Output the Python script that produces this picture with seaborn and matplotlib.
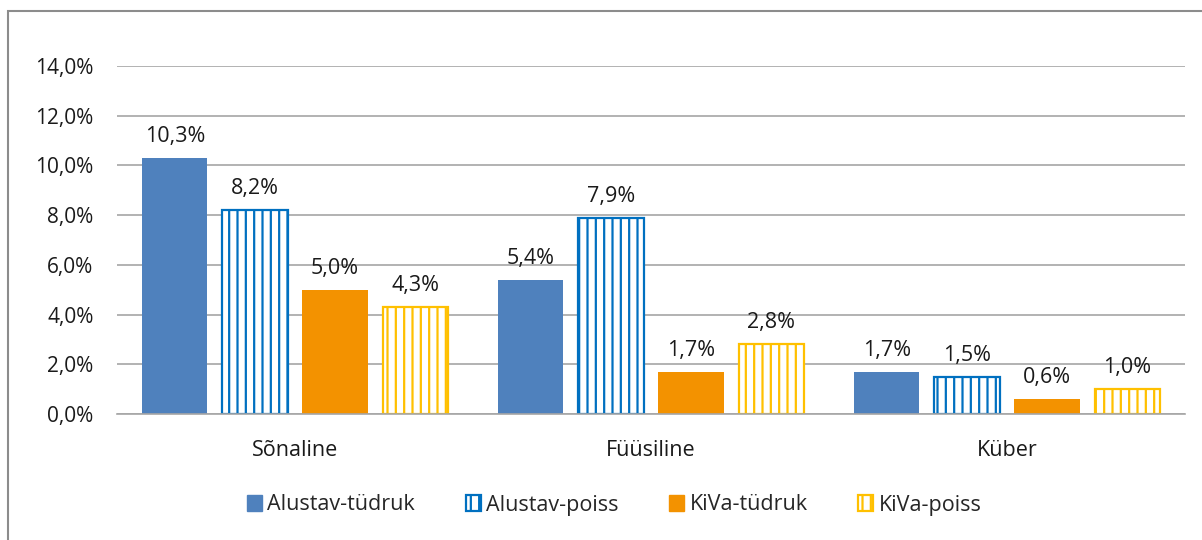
import pandas as pd
import numpy as np
import matplotlib.pyplot as plt
import seaborn as sns
from matplotlib.patches import Patch, Rectangle

# andmed
kategooriad = ["Sõnaline", "Füüsiline", "Küber"]
grupid = ["Alustav-tüdruk", "Alustav-poiss", "KiVa-tüdruk", "KiVa-poiss"]
alustav_tudruk = [10.3, 5.4, 1.7]
alustav_poiss = [8.2, 7.9, 1.5]
kiva_tudruk = [5.0, 1.7, 0.6]
kiva_poiss = [4.3, 2.8, 1.0]
y_ticks = [0, 2, 4, 6, 8, 10, 12, 14]

vaartused = [alustav_tudruk, alustav_poiss, kiva_tudruk, kiva_poiss]
df = pd.DataFrame({
    "kategooria": [k for _ in grupid for k in kategooriad],
    "grupp": [g for g in grupid for _ in kategooriad],
    "osakaal": [v for rida in vaartused for v in rida],
})

varvid = ["#4F81BD", "#0070C0", "#F39200", "#FFC000"]
taidetud = [True, False, True, False]
fs = 15.5

sns.set_theme(style="white")
plt.rcParams["font.family"] = ["Open Sans", "DejaVu Sans"]
plt.rcParams["hatch.linewidth"] = 1.6

fig = plt.figure(figsize=(12.02, 5.40), dpi=100)
ax = fig.add_axes([117 / 1202, 1 - 414 / 540, (1185 - 117) / 1202, (414 - 66) / 540])

sns.barplot(data=df, x="kategooria", y="osakaal", hue="grupp", hue_order=grupid,
            palette=varvid, width=0.9, gap=0.187, ax=ax, legend=False)

for cont, c, t, vals in zip(ax.containers, varvid, taidetud, vaartused):
    for p in cont.patches:
        if t:
            p.set_facecolor(c)
            p.set_edgecolor(c)
            p.set_linewidth(0)
        else:
            p.set_facecolor("white")
            p.set_edgecolor(c)
            p.set_hatch("||")
            p.set_linewidth(1.6)
    ax.bar_label(cont, labels=[f"{v:.1f}%".replace(".", ",") for v in vals],
                 padding=8, fontsize=fs, color="#1a1a1a")

ax.set_ylim(0, 14)
ax.set_xlim(-0.5, 2.5)
ax.set_yticks(y_ticks)
ax.set_yticklabels([f"{v:.1f}%".replace(".", ",") for v in y_ticks], fontsize=fs - 0.5, color="#1a1a1a")
ax.tick_params(axis="x", labelsize=fs, labelcolor="#1a1a1a", pad=19, length=0)
ax.tick_params(axis="y", pad=17, length=0)
ax.set_xlabel("")
ax.set_ylabel("")
ax.yaxis.grid(True, color="#A6A6A6", linewidth=1.2)
ax.set_axisbelow(True)
for s in ["top", "right", "left"]:
    ax.spines[s].set_visible(False)
ax.spines["bottom"].set_color("#A6A6A6")
ax.spines["bottom"].set_linewidth(1.2)

kasitsejad = []
for g, c, t in zip(grupid, varvid, taidetud):
    if t:
        kasitsejad.append(Patch(facecolor=c, edgecolor=c, label=g))
    else:
        kasitsejad.append(Patch(facecolor="white", edgecolor=c, hatch="||", linewidth=1.6, label=g))
fig.legend(handles=kasitsejad, loc="center", bbox_to_anchor=(0.511, 1 - 505 / 540), ncol=4,
           frameon=False, fontsize=fs, handlelength=0.7, handleheight=0.8,
           handletextpad=0.25, columnspacing=2.35)

# raam ümber diagrammi
fig.patches.append(Rectangle((8 / 1202, -0.05), 1.1, 1 - 11 / 540 + 0.05, transform=fig.transFigure,
                             fill=False, edgecolor="#8C8C8C", linewidth=1.5))

plt.savefig("out.png", dpi=100)
plt.close()
